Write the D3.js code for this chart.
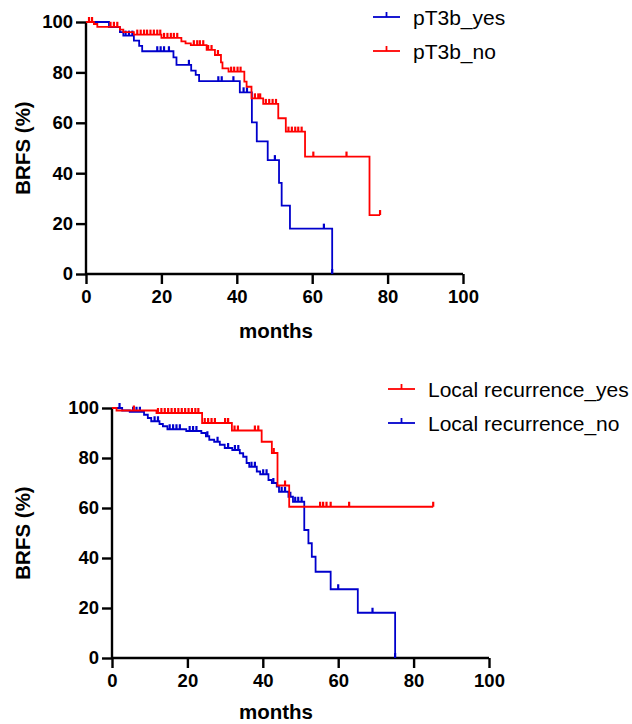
<!DOCTYPE html>
<html>
<head>
<meta charset="utf-8">
<script src="https://cdn.jsdelivr.net/npm/d3@7"></script>
<style>
  body { margin: 0; background: #fff; }
  svg { display: block; font-family: "Liberation Sans", Arial, sans-serif; }
</style>
</head>
<body>
<div id="chart"></div>
<script>
// ---- data (months, BRFS %) ----
var xTicks = [0, 20, 40, 60, 80, 100];
var yTicks = [0, 20, 40, 60, 80, 100];

// top panel: pT3b
var pT3bYesTimes = [0, 6.1, 9.0, 9.9, 12.7, 14.1, 14.9, 23.2, 24.0, 27.9, 29.1, 30.0, 40.8, 44.0, 45.3, 48.2, 51.2, 51.9, 54.1, 65.3];
var pT3bYesSurv  = [100, 98, 96, 94.6, 92.6, 90.5, 88.4, 86, 83, 80.7, 79, 76.5, 72.1, 60.2, 52.6, 45.2, 36.2, 27.1, 18.0, 0];
var pT3bYesCens  = [10.5, 11.4, 12.3, 18.9, 19.8, 20.7, 22.0, 27.3, 35.1, 36.0, 39.1, 41.8, 42.7, 50.1, 63.1, 65.3];

var pT3bNoTimes = [0, 2.1, 3.0, 9.0, 9.9, 12.7, 20.0, 25.3, 26.4, 27.8, 32.0, 34.2, 35.8, 36.2, 37.8, 42.0, 42.6, 43.9, 47.0, 51.0, 53.0, 58.1, 75.2];
var pT3bNoSurv  = [100, 99.2, 98.1, 97, 96, 95, 93.7, 92.3, 91.5, 90.8, 88.9, 86.9, 84, 81.6, 80.3, 76.3, 74.3, 69.7, 67.5, 61.8, 56.5, 46.6, 23.4];
var pT3bNoCens  = [0.8, 1.6, 6.5, 7.4, 8.3, 13.6, 14.5, 15.4, 16.2, 17.1, 18.0, 18.9, 19.7, 20.7, 21.6, 22.5, 23.3, 24.2, 28.6, 29.5, 30.2, 31.1, 32.4, 33.3, 35.0, 38.5, 39.3, 40.2, 41.0, 44.8, 45.7, 46.2, 47.7, 48.6, 49.5, 50.4, 53.7, 54.6, 55.5, 56.3, 57.2, 60.3, 69.1, 78.0];

// bottom panel: local recurrence
var lrYesTimes = [0, 1.2, 11.8, 23.9, 31.8, 39.7, 42.4, 43.9, 47.0];
var lrYesSurv  = [100, 99, 98, 94, 91, 86.5, 82, 69, 60.5];
var lrYesCens  = [5.8, 12.2, 13.1, 14.0, 14.9, 15.8, 16.7, 17.6, 18.5, 19.4, 20.3, 21.2, 22.1, 22.9, 24.6, 25.5, 26.4, 27.3, 30.0, 30.8, 32.5, 33.4, 37.9, 38.8, 42.9, 45.9, 55.2, 56.0, 56.9, 58.0, 62.9, 85.2];

var lrNoTimes = [0, 2.7, 4.7, 8.5, 9.5, 10.4, 12.6, 13.5, 14.7, 19.7, 23.7, 24.9, 25.8, 27.1, 28.6, 29.9, 31.9, 33.9, 34.8, 35.7, 36.4, 38.4, 39.3, 41.5, 42.4, 43.7, 44.3, 46.8, 48.0, 51.0, 52.1, 53.0, 54.0, 58.0, 65.2, 75.1];
var lrNoSurv  = [100, 99, 98.5, 97.3, 96, 94.7, 93.6, 92.7, 91.5, 90.8, 90, 88.7, 87.3, 86.5, 85.3, 84, 83.2, 81.9, 80.5, 78, 76.5, 74.6, 73.5, 71.2, 70, 68.6, 66.5, 64.5, 62.5, 51.2, 45.9, 40.5, 34.5, 27.5, 18.1, 0];
var lrNoCens  = [2.0, 5.6, 6.5, 7.4, 11.3, 12.2, 15.3, 16.2, 17.1, 18.0, 20.6, 21.5, 22.4, 25.3, 28.0, 30.8, 32.6, 33.5, 37.0, 37.9, 40.1, 41.0, 42.8, 45.0, 45.9, 47.3, 48.6, 49.4, 50.3, 60.0, 69.1, 75.1];

var RED = "#ff0000", BLUE = "#0000cc";

var svg = d3.select("#chart").append("svg")
  .attr("width", 632)
  .attr("height", 724);

var panels = [
  {
    left: 86, right: 463, top: 22, bottom: 274, titleX: 276, titleY: 338,
    legendX: 373, legendY: 17,
    series: [
      { name: "pT3b_yes", color: BLUE, times: pT3bYesTimes, surv: pT3bYesSurv, cens: pT3bYesCens },
      { name: "pT3b_no", color: RED, times: pT3bNoTimes, surv: pT3bNoSurv, cens: pT3bNoCens }
    ]
  },
  {
    left: 112, right: 489, top: 408, bottom: 658, titleX: 276, titleY: 719,
    legendX: 388, legendY: 389,
    series: [
      { name: "Local recurrence_yes", color: RED, times: lrYesTimes, surv: lrYesSurv, cens: lrYesCens },
      { name: "Local recurrence_no", color: BLUE, times: lrNoTimes, surv: lrNoSurv, cens: lrNoCens }
    ]
  }
];

function levelAt(s, t) {
  var i = d3.bisectRight(s.times, t) - 1;
  return s.surv[Math.max(i, 0)];
}

panels.forEach(function(p) {
  var x = d3.scaleLinear().domain([0, 100]).range([p.left, p.right]);
  var y = d3.scaleLinear().domain([0, 100]).range([p.bottom, p.top]);

  var g = svg.append("g");

  // axes
  var xAxis = g.append("g")
    .attr("transform", `translate(0,${p.bottom})`)
    .call(d3.axisBottom(x).tickValues(xTicks).tickSize(10).tickPadding(6));
  var yAxis = g.append("g")
    .attr("transform", `translate(${p.left},0)`)
    .call(d3.axisLeft(y).tickValues(yTicks).tickSize(10).tickPadding(3));

  [xAxis, yAxis].forEach(function(a) {
    a.select(".domain").attr("stroke", "#000").attr("stroke-width", 2.4);
    a.selectAll(".tick line").attr("stroke", "#000").attr("stroke-width", 2.4);
    a.selectAll(".tick text")
      .attr("fill", "#000")
      .style("font-size", "18.5px")
      .style("font-weight", "bold");
  });
  xAxis.select(".domain").attr("d", `M${p.left},0H${p.right}`);
  yAxis.select(".domain").attr("d", `M0,${p.bottom}V${p.top}`);

  // axis titles
  g.append("text")
    .attr("x", p.titleX)
    .attr("y", p.titleY)
    .attr("text-anchor", "middle")
    .style("font-size", "20.5px")
    .style("font-weight", "bold")
    .text("months");

  g.append("text")
    .attr("transform", `translate(30,${(p.top + p.bottom) / 2}) rotate(-90)`)
    .attr("text-anchor", "middle")
    .style("font-size", "20.5px")
    .style("font-weight", "bold")
    .text("BRFS (%)");

  // curves: red drawn last so it ends on top in both panels
  var order = p.series.slice().sort(function(a, b) { return a.color === RED ? 1 : -1; });

  var line = d3.line()
    .x(function(d) { return x(d[0]); })
    .y(function(d) { return y(d[1]); })
    .curve(d3.curveStepAfter);

  order.forEach(function(s) {
    var pts = s.times.map(function(t, i) { return [t, s.surv[i]]; });
    var tEnd = d3.max(s.cens.concat(s.times));
    pts.push([tEnd, levelAt(s, tEnd)]);

    g.append("path")
      .datum(pts)
      .attr("fill", "none")
      .attr("stroke", s.color)
      .attr("stroke-width", 1.8)
      .attr("d", line);

    g.selectAll(null)
      .data(s.cens)
      .enter()
      .append("line")
      .attr("x1", function(t) { return x(t); })
      .attr("x2", function(t) { return x(t); })
      .attr("y1", function(t) { return y(levelAt(s, t)); })
      .attr("y2", function(t) { return y(levelAt(s, t)) - 5; })
      .attr("stroke", s.color)
      .attr("stroke-width", 2.2);
  });

  // legend
  p.series.forEach(function(s, i) {
    var ly = p.legendY + i * 34;
    var lg = g.append("g");
    lg.append("line")
      .attr("x1", p.legendX).attr("x2", p.legendX + 27)
      .attr("y1", ly).attr("y2", ly)
      .attr("stroke", s.color).attr("stroke-width", 1.8);
    lg.append("line")
      .attr("x1", p.legendX + 13.5).attr("x2", p.legendX + 13.5)
      .attr("y1", ly).attr("y2", ly - 5)
      .attr("stroke", s.color).attr("stroke-width", 1.8);
    lg.append("text")
      .attr("x", p.legendX + 40)
      .attr("y", ly + 7.5)
      .style("font-size", "21px")
      .text(s.name);
  });
});
</script>
</body>
</html>
